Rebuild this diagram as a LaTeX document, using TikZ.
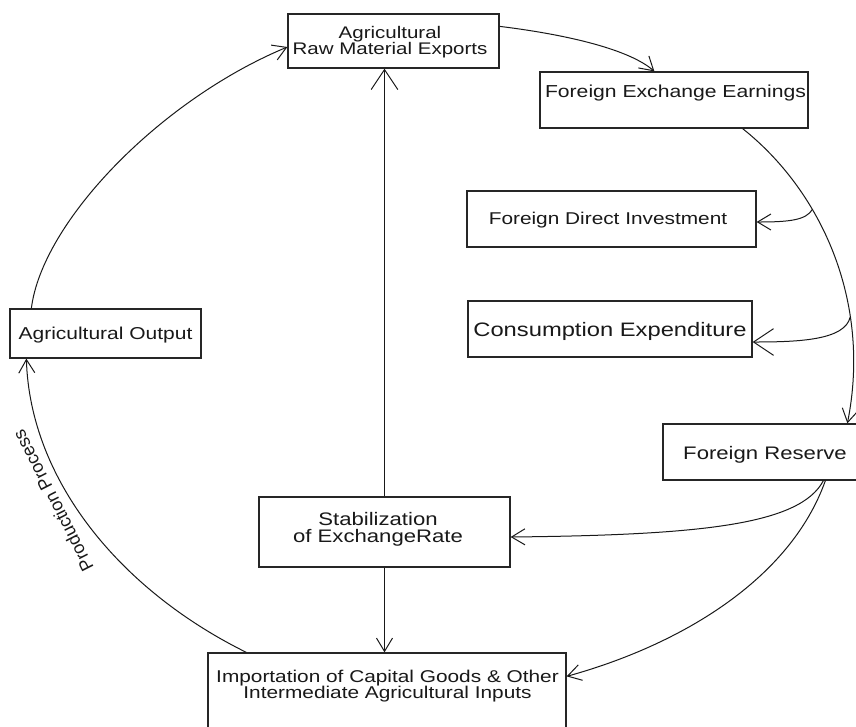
\documentclass[tikz,border=0pt]{standalone}
\usepackage{fontspec}
\setmainfont{Liberation Sans}
\newfontfamily\ws[FakeStretch=1.22]{Liberation Sans}
\usetikzlibrary{arrows.meta,calc,fit}
\tikzset{
  box/.style={draw=black!85, line width=0.95pt, inner sep=0pt, rectangle},
  lbl/.style={inner sep=0pt, text=black!90, align=center},
  conn/.style={draw=black!90, line width=0.75pt,
    -{Straight Barb[length=10pt,width=12pt,line width=0.75pt]}},
  bigtip/.style={-{Straight Barb[length=15pt,width=20pt,line width=0.75pt]}},
}
\begin{document}
\begin{tikzpicture}[x=0.75pt,y=-0.75pt]
\useasboundingbox (0,0) rectangle (856,726);
\fill[white] (0,0) rectangle (856,726);
\clip (0,0) rectangle (856,726);

% boxes
\node[box, fit={(288,14) (499,68)}] (A) {};
\node[box, fit={(540,72) (808,128)}] (B) {};
\node[box, fit={(467,191) (756,247)}] (C) {};
\node[box, fit={(468,301) (752,357)}] (D) {};
\node[box, fit={(10,309) (201,358)}] (E) {};
\node[box, fit={(663,424) (880,480)}] (F) {};
\node[box, fit={(259,497) (510,567)}] (G) {};
\node[box, fit={(208,653) (566,760)}] (H) {};

% texts
\node[lbl, font={\fontsize{12.6}{12}\ws}] (tA) at (390,42) {Agricultural\\Raw Material Exports};
\node[lbl, anchor=base, font={\fontsize{13}{15}\ws}] (tB) at (675.5,97) {Foreign Exchange Earnings};
\node[lbl, anchor=base, font={\fontsize{12.8}{15}\ws}] (tC) at (608,224) {Foreign Direct Investment};
\node[lbl, anchor=base, font={\fontsize{14.6}{17}\ws}] (tD) at (610,336) {Consumption Expenditure};
\node[lbl, anchor=base, font={\fontsize{12.9}{15}\ws}] (tE) at (105.5,339) {Agricultural Output};
\node[lbl, anchor=base, font={\fontsize{13.6}{16}\ws}] (tF) at (765,459) {Foreign Reserve};
\node[lbl, font={\fontsize{13.6}{13}\ws}] (tG) at (378,529.5) {Stabilization\\of ExchangeRate};
\node[lbl, font={\fontsize{12.8}{12.2}\ws}] (tH) at (387.5,686) {Importation of Capital Goods \& Other\\Intermediate Agricultural Inputs};
\node[lbl, rotate=117, font={\fontsize{13.5}{15}\selectfont}] (pp) at (53,501) {Production Process};

% connectors
\draw[conn] ($(E.north west)+(22,0)$) .. controls (42,222) and (160,100) .. ($(A.west)+(0,6)$);
\draw[conn] ($(A.north east)+(0,13)$) .. controls (570,35) and (630,50) .. ($(B.north west)+(115,0)$);
\draw[conn] ($(B.south east)+(-66,0)$) .. controls (820,190) and (872,300) .. ($(F.north west)+(185,0)$)
   coordinate[pos=0.35] (br1) coordinate[pos=0.7] (br2);
\draw[conn] (br1) .. controls (806,220) and (790,222) .. ($(C.east)+(0,3)$);
\draw[conn, bigtip] (br2) .. controls (845,340) and (800,342) .. ($(D.east)+(0,13)$);
\draw[conn] ($(F.south west)+(161,0)$) .. controls (800,525) and (700,535) .. ($(G.east)+(0,5)$);
\draw[conn] ($(F.south west)+(163,0)$) .. controls (790,580) and (680,645) .. ($(H.north east)+(0,24)$);
\draw[conn, bigtip] (G.north) -- (G.north |- A.south);
\draw[conn] (G.south) -- (G.south |- H.north);
\draw[conn] ($(H.north west)+(39,0)$) .. controls (120,590) and (30,480) .. ($(E.south west)+(17,0)$);
\end{tikzpicture}
\end{document}
